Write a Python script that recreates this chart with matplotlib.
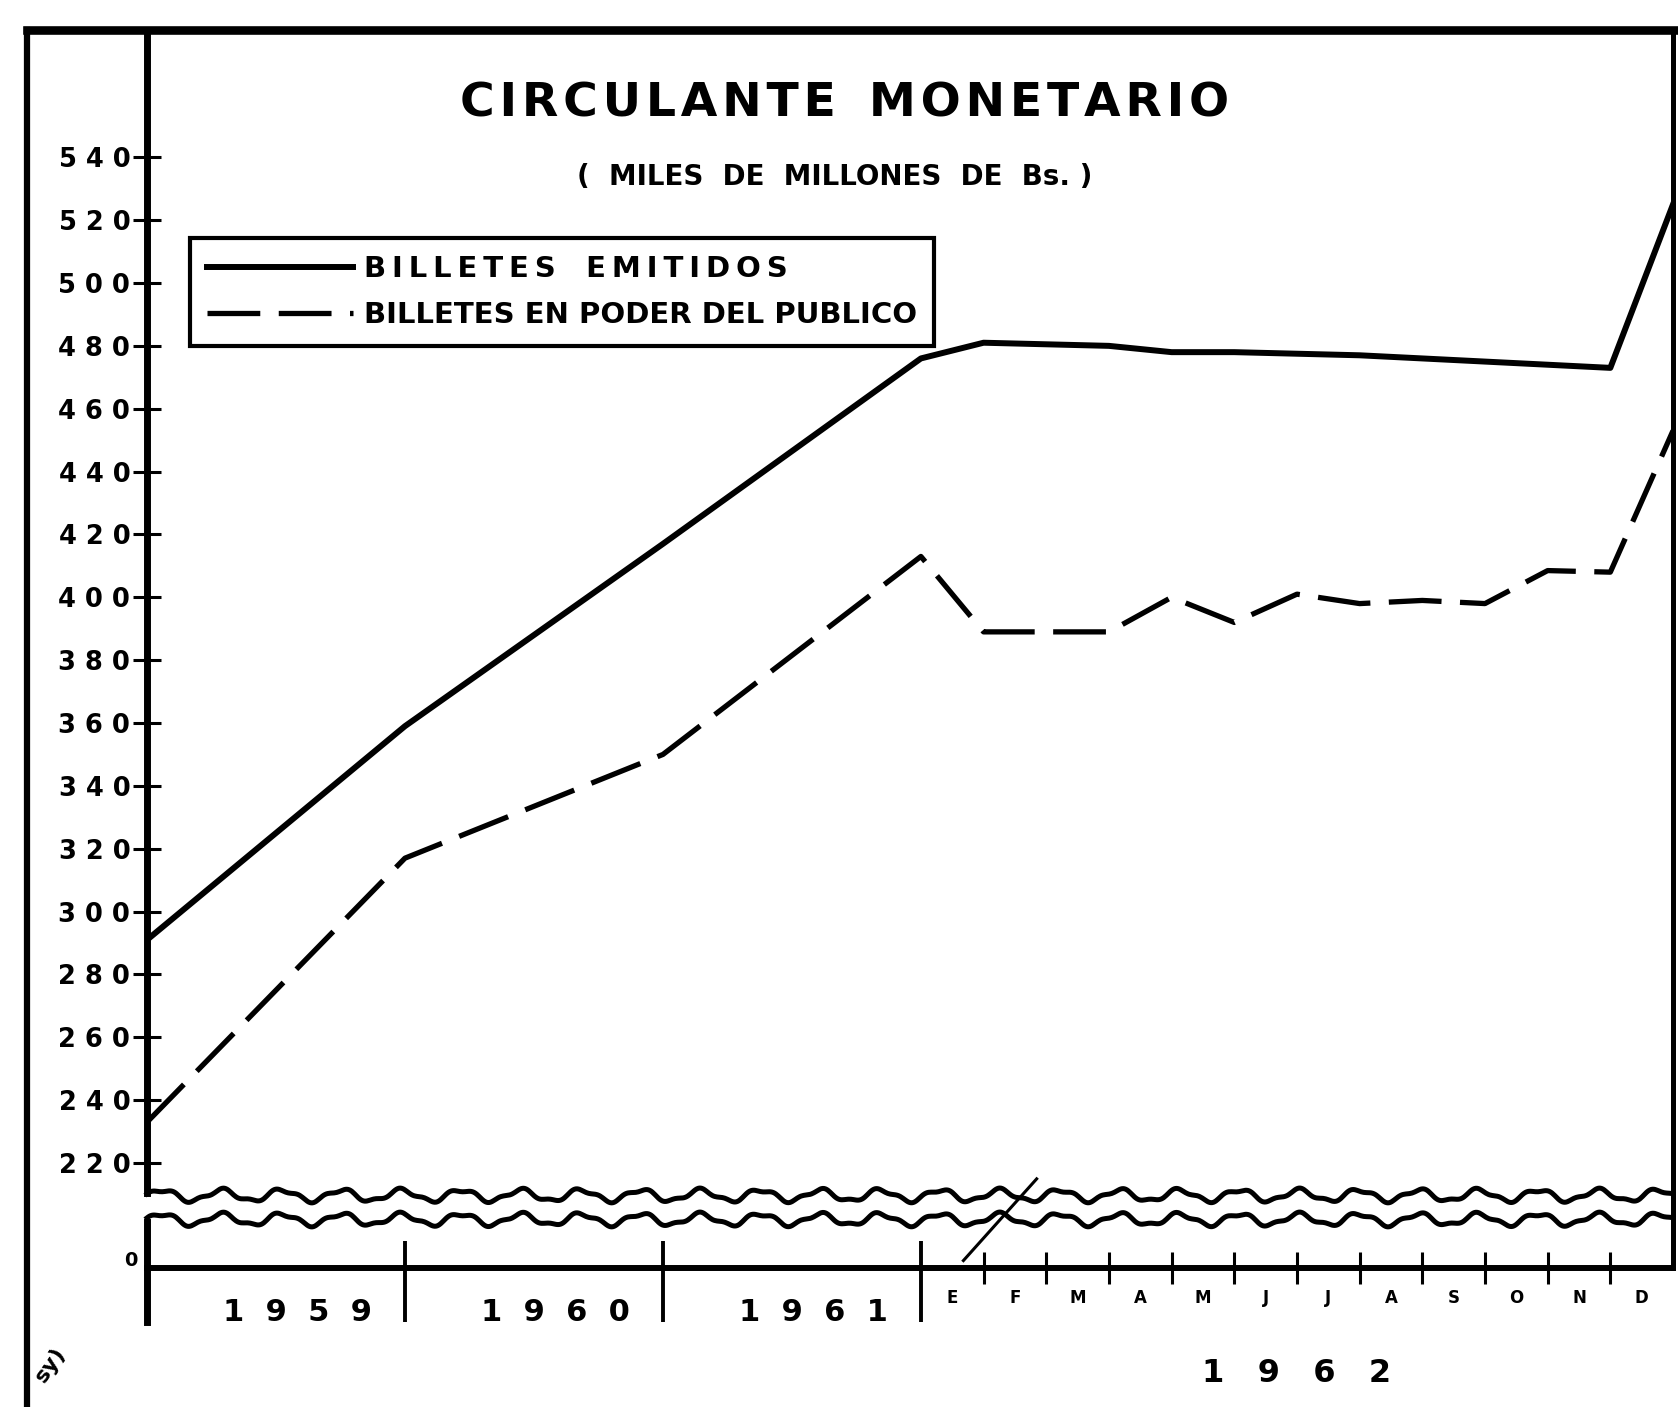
"""
Circulante monetario (miles de millones de Bs.) - recreation of a scanned
black & white chart: annual points 1959-1961, monthly points in 1962,
broken y axis between 0 and 220.
"""
import numpy as np
import matplotlib
matplotlib.use("Agg")
import matplotlib.pyplot as plt
from matplotlib.lines import Line2D

# ---- data -------------------------------------------------------------
# x = months counted from Dec-1958; year-end points up to 1961, month-ends in 1962
periodos = ["Dic 1958", "Dic 1959", "Dic 1960", "Dic 1961",
            "Ene 1962", "Feb 1962", "Mar 1962", "Abr 1962", "May 1962", "Jun 1962",
            "Jul 1962", "Ago 1962", "Sep 1962", "Oct 1962", "Nov 1962", "Dic 1962"]
x_mes = [0, 12, 24, 36, 37, 38, 39, 40, 41, 42, 43, 44, 45, 46, 47, 48]
billetes_emitidos = [291, 359, 417, 476, 481, 480.5, 480, 478, 478, 477.5,
                     477, 476, 475, 474, 473, 525]
billetes_publico = [233, 317, 350, 413, 389, 389, 389, 400, 392, 401,
                    398, 399, 398, 408.5, 408, 453]

y_ticks = [220, 240, 260, 280, 300, 320, 340, 360, 380, 400,
           420, 440, 460, 480, 500, 520, 540]
anios = ["1959", "1960", "1961"]
anio_inicio = [0, 12, 24, 36]
anio_centro = [7, 19, 31]
meses = ["E", "F", "M", "A", "M", "J", "J", "A", "S", "O", "N", "D"]
mes_fin = [37, 38, 39, 40, 41, 42, 43, 44, 45, 46, 47]
mes_centro = [36.5, 37.5, 38.5, 39.5, 40.5, 41.5, 42.5, 43.5, 44.5, 45.5, 46.5, 47.5]

# ---- compressed time scale: one year before 1962 ~ 4.1 months of 1962 ----
K = 0.343
X62 = 36.0


def _fwd(m):
    m = np.asarray(m, dtype=float)
    return np.where(m <= X62, m * K, X62 * K + (m - X62))


def _inv(u):
    u = np.asarray(u, dtype=float)
    return np.where(u <= X62 * K, u / K, u - X62 * K + X62)


def _spaced(word, sep="\u200a"):
    return sep.join(word)


BOLD = dict(family="DejaVu Sans", weight="bold", color="black")

fig = plt.figure(figsize=(16.78, 14.07), dpi=100)
ax = fig.add_axes([147 / 1678, 1 - 1268 / 1407, 1526 / 1678, 1238 / 1407])
ax.set_xscale("function", functions=(_fwd, _inv))
ax.set_xlim(0, 48)
ax.set_ylim(186.6, 580.5)

l1, = ax.plot(x_mes, billetes_emitidos, color="black", lw=4.3,
              solid_joinstyle="round",
              label=_spaced("BILLETES", "\u2009") + "   " + _spaced("EMITIDOS", "\u2009"))
l2, = ax.plot(x_mes, billetes_publico, color="black", lw=3.8,
              dashes=(10, 3.5), label="BILLETES EN PODER DEL PUBLICO")

# ---- axes decoration --------------------------------------------------
for s in ("left", "top", "right"):
    ax.spines[s].set_visible(False)
ax.spines["bottom"].set_linewidth(4.3)

ax.set_yticks(y_ticks, labels=[" ".join(str(v)) for v in y_ticks])
ax.tick_params(axis="y", direction="inout", length=20, width=2.2, pad=2,
               labelsize=18.5)
for t in ax.get_yticklabels():
    t.set_fontweight("bold")

ax.set_xticks(mes_fin, labels=[""] * len(mes_fin))
ax.xaxis.set_minor_locator(matplotlib.ticker.NullLocator())
ax.tick_params(axis="x", direction="inout", length=23, width=2.2)

# year dividers, longer below the axis
ax.vlines(anio_inicio[1:], -0.044, 0.022, color="black", lw=2.8,
          transform=ax.get_xaxis_transform(), clip_on=False)

# broken y axis (upper part + lower part), wavy break lines
trans = ax.transAxes
y_up, y_lo = 0.0606, 0.0372
ax.add_line(Line2D([0, 0], [1.0, y_up], lw=5, color="black", transform=trans, clip_on=False))
ax.add_line(Line2D([0, 0], [y_lo, -0.044], lw=5, color="black", transform=trans, clip_on=False))
xw = np.linspace(0, 1, 1200)
wave = 0.0045 * np.sin(2 * np.pi * xw * 25.5) + 0.0015 * np.sin(2 * np.pi * xw * 61 + 1.0)
ax.add_line(Line2D(xw, y_up - 0.002 + wave, lw=3.6, color="black", transform=trans, clip_on=False))
ax.add_line(Line2D(xw, y_lo + 0.002 + wave, lw=3.6, color="black", transform=trans, clip_on=False))
ax.add_line(Line2D([0.535, 0.583], [0.006, 0.072], lw=2.2, color="black", transform=trans))

# right border (end of December)
ax.add_line(Line2D([1, 1], [0, 1], lw=3.6, color="black", transform=trans, clip_on=False))

ax.text(-0.006, 0.006, "0", ha="right", va="center", fontsize=14, transform=trans, **BOLD)

xlab = ax.get_xaxis_transform()
for c, a in zip(anio_centro, anios):
    ax.text(c, -0.036, "  ".join(a), ha="center", va="center", fontsize=22,
            transform=xlab, **BOLD)
for c, m in zip(mes_centro, meses):
    ax.text(c, -0.024, m, ha="center", va="center", fontsize=12,
            transform=xlab, **BOLD)
ax.text(42, -0.085, "1   9   6   2", ha="center", va="center", fontsize=23,
        transform=xlab, **BOLD)

# ---- outer frame ------------------------------------------------------
fy = 1 - 30 / 1407
fx = 27 / 1678
fig.add_artist(Line2D([fx, 1.0], [fy, fy], lw=6.2, color="black", transform=fig.transFigure))
fig.add_artist(Line2D([fx, fx], [0, fy], lw=4.5, color="black", transform=fig.transFigure))

# ---- titles -----------------------------------------------------------
fig.text(845 / 1678, 1 - 104 / 1407,
         _spaced("CIRCULANTE") + "  " + _spaced("MONETARIO"),
         ha="center", va="center", fontsize=34, **BOLD)
fig.text(835 / 1678, 1 - 177 / 1407, "(  MILES  DE  MILLONES  DE  Bs. )", ha="center",
         va="center", fontsize=20, **BOLD)

fig.text(0.03, 0.03, "sy)", rotation=55, fontsize=16, ha="center", va="center", **BOLD)

leg = ax.legend(handles=[l1, l2], loc="upper left", bbox_to_anchor=(190 / 1678, 1 - 238 / 1407),
                bbox_transform=fig.transFigure, borderaxespad=0, fancybox=False,
                frameon=True, framealpha=1, edgecolor="black",
                prop=dict(family="DejaVu Sans", weight="bold", size=21),
                handlelength=5.0, handletextpad=0.38, labelspacing=0.62, borderpad=0.58)
leg.get_frame().set_linewidth(3)

fig.savefig("out.png", dpi=100)
